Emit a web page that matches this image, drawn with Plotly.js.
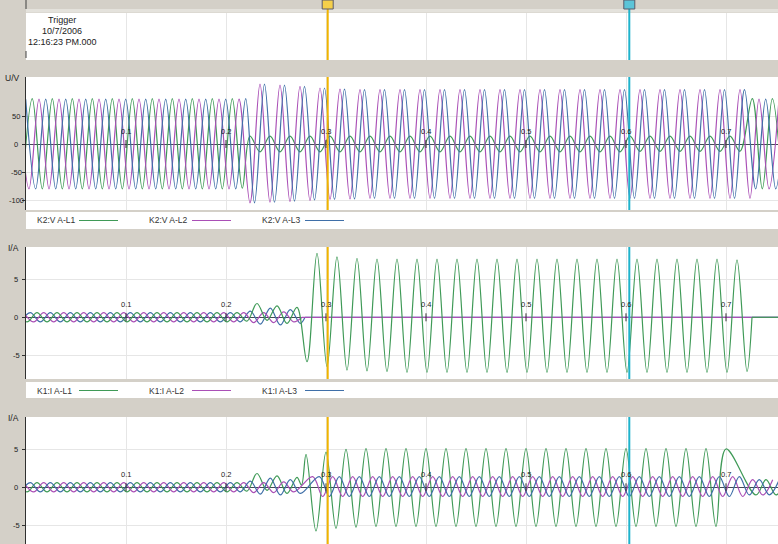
<!DOCTYPE html>
<html><head><meta charset="utf-8">
<script src="https://cdn.plot.ly/plotly-3.0.1.min.js"></script>
<style>html,body{margin:0;padding:0;background:#d4d0c8;overflow:hidden}#chart{width:778px;height:544px}</style>
</head><body><div id="chart"></div>
<script>
// ---------------- data ----------------
const tickTimes  = [0.1, 0.2, 0.3, 0.4, 0.5, 0.6, 0.7];
const tickLabels = ['0.1', '0.2', '0.3', '0.4', '0.5', '0.6', '0.7'];
const uTickVals  = [50, 0, -50, -100];
const uTickText  = ['50', '0', '-50', '-100'];
const iTickVals  = [5, 0, -5];
const iTickText  = ['5', '0', '-5'];
const halfCycle  = 0.01;           // 50 Hz: one extreme every 10 ms
const cursorTimes = [0.3017, 0.6033];
const triggerText = ['Trigger', '10/7/2006', '12:16:23 PM.000'];
const legend1 = ['K2:V A-L1', 'K2:V A-L2', 'K2:V A-L3'];
const legend2 = ['K1:I A-L1', 'K1:I A-L2', 'K1:I A-L3'];

// Panel 1, U/V : successive signed peak values, one per half cycle
const u1PreStart = -0.0037;
const u1Pre = [-80,81,-80,81,-80,81,-80,81,-80,81,-80,81,-80,81,-80,81,-80,81,-80,81,-80,81,-79];
const u1FaultStart = 0.224;
const u1Fault = [14,-14,14,-14,14,-14,14,-14,14,-14,14,-14,14,-14,14,-14,14,-14,14,-14,14,-14,14,-14,14,-14,
                 14,-14,14,-14,14,-14,14,-14,14,-14,14,-14,14,-13,14,-13,14,-13,14,-13,14,-13,14,-13];
const u1PostStart = 0.7263;
const u1Post = [81,-80,81,-80];

const u2PreStart = -0.007;
const u2Pre = [80,-80,80,-80,80,-80,80,-80,80,-80,80,-80,80,-80,80,-80,80,-80,80,-80,80,-80,80];
const u2FaultStart = 0.224;
const u2Fault = [-105,107,-104,105,-103,103,-101,100,-99,98,-98,97,
                 -97,97,-97,97,-97,97,-97,97,-97,97,-97,97,-97,97,-97,97,-97,97,-97,97,-97,97,-97,97,-97,97,-97,97,
                 -97,97,-97,97,-97,97,-97,97,-97,97,-97];
const u2PostStart = 0.733;
const u2Post = [80,-80,80];

const u3PreStart = -0.0003;
const u3Pre = [80,-80,80,-80,80,-80,80,-80,80,-80,80,-80,80,-80,80,-80,80,-80,80,-80,80,-80,81];
const u3FaultStart = 0.2285;
const u3Fault = [-105,107,-104,105,-102,103,-100,100,-99,98,-98,97,
                 -97,97,-97,97,-97,97,-97,97,-97,97,-97,97,-97,97,-97,97,-97,97,-97,97,-97,97,-97,97,-97,97,-97,97,
                 -97,97,-97,97,-97,97,-97,97,-97,97];
const u3PostStart = 0.7297;
const u3Post = [-80,80,-80,80];

// Panels 2 and 3, I/A : identical before the fault
const iL1PreStart = -0.009;
const iL1Pre = [0.6,-0.6,0.6,-0.6,0.6,-0.6,0.6,-0.6,0.6,-0.6,0.6,-0.6,0.6,-0.6,0.6,-0.6,0.6,-0.6,0.6,-0.6,0.6,-0.6,0.6,-0.5,
                1.8,-0.4,1.5,-0.8,1.3];
const iL2PreStart = -0.0023;
const iL2Pre = [0.6,-0.6,0.6,-0.6,0.6,-0.6,0.6,-0.6,0.6,-0.6,0.6,-0.6,0.6,-0.6,0.6,-0.6,0.6,-0.6,0.6,-0.6,0.6,-0.6,0.6,
                -0.7,0.6,-0.7,0.7,-0.6];
const iL3PreStart = -0.0057;
const iL3Pre = [-0.6,0.6,-0.6,0.6,-0.6,0.6,-0.6,0.6,-0.6,0.6,-0.6,0.6,-0.6,0.6,-0.6,0.6,-0.6,0.6,-0.6,0.6,-0.6,0.6,-0.6,
                0.8,-0.9,1.2,-1.0,1.0,-0.8];

// Panel 2 (K1) after the fault
const k1L1FaultStart = 0.281;
const k1L1Fault = [-5.8,8.35,-6.45,7.9,-6.9,7.7,-7.0,7.6,-7.1,7.6,
                   -7.2,7.6,-7.2,7.6,-7.2,7.6,-7.2,7.6,-7.2,7.6,-7.2,7.6,-7.2,7.6,-7.2,7.6,-7.2,7.6,-7.2,7.6,
                   -7.2,7.6,-7.2,7.6,-7.2,7.6,-7.2,7.6,-7.2,7.6,-7.2,7.6,-7.2,7.5,-7.1];
const k1L1EndT = [0.726, 0.752];
const k1L1EndV = [0, 0];
const k1L2EndT = [0.276, 0.752];
const k1L2EndV = [0, 0];
const k1L3EndT = [0.279, 0.752];
const k1L3EndV = [0, 0];

// Panel 3 after the fault
const p3L1DipT = [0.2755];
const p3L1DipV = [0.3];
const p3L1FaultStart = 0.280;
const p3L1Fault = [4.3,-5.7,4.6,-5.35,4.96,-5.2,5.05,-5.1,
                   5.05,-5.1,5.05,-5.1,5.05,-5.1,5.05,-5.1,5.05,-5.1,5.05,-5.1,5.05,-5.1,5.05,-5.1,5.05,-5.1,
                   5.05,-5.1,5.05,-5.1,5.05,-5.1,5.05,-5.1,5.05,-5.1,5.05,-5.1,5.05,-5.1,5.05,-5.1,5.0];
const p3L1PostStart = 0.730;
const p3L1Post = [-1.0,1.0,-1.0,1.0];
const p3L2FaultStart = 0.2867;
const p3L2Fault = [1.4,-1.2,1.4,-1.2,1.4,-1.2,1.4,-1.2,1.4,-1.2,1.4,-1.2,1.4,-1.2,1.4,-1.2,1.4,-1.2,1.4,-1.2,1.4,-1.2,
                   1.4,-1.2,1.4,-1.2,1.4,-1.2,1.4,-1.2,1.4,-1.2,1.4,-1.2,1.4,-1.2,1.4,-1.2,1.4,-1.2,1.4,-1.2,1.4,-1.2];
const p3L2PostStart = 0.7267;
const p3L2Post = [1.0,-1.0,1.0];
const p3L3FaultStart = 0.2933;
const p3L3Fault = [1.4,-1.2,1.4,-1.2,1.4,-1.2,1.4,-1.2,1.4,-1.2,1.4,-1.2,1.4,-1.2,1.4,-1.2,1.4,-1.2,1.4,-1.2,1.4,-1.2,
                   1.4,-1.2,1.4,-1.2,1.4,-1.2,1.4,-1.2,1.4,-1.2,1.4,-1.2,1.4,-1.2,1.4,-1.2,1.4,-1.2,1.4,-1.2,1.4];
const p3L3PostStart = 0.7233;
const p3L3Post = [-1.0,1.0,-1.0,1.0];

// ---------------- geometry & styles ----------------
const W = 778, H = 544, L = 26;
const C1 = '#3f9a57', C2 = '#aa4fb6', C3 = '#3f6fa8';
const GRID = '#e6e6e6';
const FONT = 'Liberation Sans, Arial, sans-serif';
const py = p => (H - p) / H;
const px = p => (p - L) / (W - L);

const topStrip = {top: 13, bottom: 60};
const pan1 = {top: 77, bottom: 210, zero: 144, ppu: 0.56};
const pan2 = {top: 247, bottom: 379, zero: 317.3, ppu: 7.66};
const pan3 = {top: 417, bottom: 544, zero: 487.3, ppu: 7.66};
const rng = p => [(p.zero - p.bottom) / p.ppu, (p.zero - p.top) / p.ppu];
const dom = p => [py(p.bottom), py(p.top)];

function seg(t0, vals) { return {x: vals.map((_, k) => t0 + k * halfCycle), y: vals.slice()}; }
function pts(ts, vs, n) { n = n || ts.length; return {x: ts.slice(0, n), y: vs.slice(0, n)}; }
function join(...parts) {
  const o = {x: [], y: []};
  parts.forEach(p => { o.x.push(...p.x); o.y.push(...p.y); });
  return o;
}
function tr(d, xa, ya, color, shape) {
  return {x: d.x, y: d.y, xaxis: xa, yaxis: ya, type: 'scatter', mode: 'lines',
          line: {color: color, width: 1.2, shape: shape || 'spline', smoothing: 1},
          hoverinfo: 'skip', showlegend: false, cliponaxis: true};
}

const data = [
  tr(join(seg(u1PreStart, u1Pre), seg(u1FaultStart, u1Fault), seg(u1PostStart, u1Post)), 'x', 'y', C1),
  tr(join(seg(u2PreStart, u2Pre), seg(u2FaultStart, u2Fault), seg(u2PostStart, u2Post)), 'x', 'y', C2),
  tr(join(seg(u3PreStart, u3Pre), seg(u3FaultStart, u3Fault), seg(u3PostStart, u3Post)), 'x', 'y', C3),

  tr(join(seg(iL3PreStart, iL3Pre), pts(k1L3EndT, k1L3EndV, 1)), 'x2', 'y2', C3),
  tr(pts(k1L3EndT, k1L3EndV), 'x2', 'y2', C3, 'linear'),
  tr(join(seg(iL2PreStart, iL2Pre), pts(k1L2EndT, k1L2EndV, 1)), 'x2', 'y2', C2),
  tr(pts(k1L2EndT, k1L2EndV), 'x2', 'y2', C2, 'linear'),
  tr(join(seg(iL1PreStart, iL1Pre), seg(k1L1FaultStart, k1L1Fault), pts(k1L1EndT, k1L1EndV, 1)), 'x2', 'y2', C1),
  tr(pts(k1L1EndT, k1L1EndV), 'x2', 'y2', C1, 'linear'),

  tr(join(seg(iL1PreStart, iL1Pre), pts(p3L1DipT, p3L1DipV), seg(p3L1FaultStart, p3L1Fault), seg(p3L1PostStart, p3L1Post)), 'x3', 'y3', C1),
  tr(join(seg(iL2PreStart, iL2Pre), seg(p3L2FaultStart, p3L2Fault), seg(p3L2PostStart, p3L2Post)), 'x3', 'y3', C2),
  tr(join(seg(iL3PreStart, iL3Pre), seg(p3L3FaultStart, p3L3Fault), seg(p3L3PostStart, p3L3Post)), 'x3', 'y3', C3),
  {x: [0], y: [0], xaxis: 'x4', yaxis: 'y4', type: 'scatter', mode: 'markers', marker: {opacity: 0}, hoverinfo: 'skip', showlegend: false}
];

function xax(anchor) {
  return {domain: [0, 1], range: [0, (W - L) / 1000], anchor: anchor, tickvals: tickTimes, showticklabels: false,
          showgrid: true, gridcolor: GRID, gridwidth: 1, zeroline: false, showline: false, ticks: '', fixedrange: true};
}
function yax(p, vals, anchor) {
  return {domain: dom(p), range: rng(p), anchor: anchor, tickvals: vals, showticklabels: false,
          showgrid: true, gridcolor: GRID, zeroline: true, zerolinecolor: '#444a55', zerolinewidth: 1,
          showline: true, linecolor: '#303030', linewidth: 1, ticks: 'outside', ticklen: 3, tickcolor: '#303030', fixedrange: true};
}

const annotations = [];
const shapes = [];
triggerText.forEach((t, i) => annotations.push({xref: 'paper', yref: 'paper', x: px(62), y: py(20 + i * 11),
  text: t, showarrow: false, xanchor: 'center', yanchor: 'middle', font: {family: FONT, size: 9, color: '#222'}}));
annotations.push({xref: 'paper', yref: 'paper', x: px(12), y: py(78), text: 'U/V', showarrow: false,
  xanchor: 'center', yanchor: 'middle', font: {family: FONT, size: 8.5, color: '#222'}});
annotations.push({xref: 'paper', yref: 'paper', x: px(13), y: py(248), text: 'I/A', showarrow: false,
  xanchor: 'center', yanchor: 'middle', font: {family: FONT, size: 8.5, color: '#222'}});
annotations.push({xref: 'paper', yref: 'paper', x: px(13), y: py(418), text: 'I/A', showarrow: false,
  xanchor: 'center', yanchor: 'middle', font: {family: FONT, size: 8.5, color: '#222'}});
[['y', uTickVals, uTickText], ['y2', iTickVals, iTickText], ['y3', iTickVals, iTickText]].forEach(([ya, v, t]) =>
  v.forEach((val, k) => annotations.push({xref: 'paper', yref: ya, x: px(16), y: val, text: t[k], showarrow: false,
    xanchor: 'center', yanchor: 'middle', font: {family: FONT, size: 7.5, color: '#222'}})));
[['x', 'y', pan1], ['x2', 'y2', pan2], ['x3', 'y3', pan3]].forEach(([xa, ya, p]) => {
  tickTimes.forEach((tt, k) => {
    annotations.push({xref: xa, yref: ya, x: tt, y: 0, yshift: 13, text: tickLabels[k], showarrow: false,
      xanchor: 'center', yanchor: 'middle', font: {family: FONT, size: 7.5, color: '#222'}});
    shapes.push({type: 'line', xref: xa, yref: ya, x0: tt, x1: tt, y0: -4 / p.ppu, y1: 4 / p.ppu,
      line: {color: '#303030', width: 1}, layer: 'above'});
  });
});
[[212, 229, legend1, 220.5], [382, 398, legend2, 390.5]].forEach(([a, b, names, yc]) => {
  shapes.push({type: 'rect', xref: 'paper', yref: 'paper', x0: px(L), x1: px(W), y0: py(b), y1: py(a),
    fillcolor: '#ffffff', line: {width: 0}, layer: 'below'});
  const tx = [35, 147, 260], lx = [[79, 118], [192, 231], [305, 344]], cols = [C1, C2, C3];
  names.forEach((n, k) => {
    annotations.push({xref: 'paper', yref: 'paper', x: px(tx[k]), y: py(yc), text: n, showarrow: false,
      xanchor: 'left', yanchor: 'middle', font: {family: FONT, size: 8.5, color: '#333'}});
    shapes.push({type: 'line', xref: 'paper', yref: 'paper', x0: px(lx[k][0]), x1: px(lx[k][1]), y0: py(yc), y1: py(yc),
      line: {color: cols[k], width: 1.2}});
  });
});
shapes.push({type: 'rect', xref: 'paper', yref: 'paper', x0: px(L), x1: px(W), y0: py(12.5), y1: py(9),
  fillcolor: '#e4e2dc', line: {width: 0}, layer: 'below'});
const curCols = ['#f0b400', '#1fb3cc'];
const curFill = ['#f5cf4a', '#5cc4d8'];
cursorTimes.forEach((ct, k) => {
  [[9, 60], [pan1.top, pan1.bottom], [pan2.top, pan2.bottom], [pan3.top, pan3.bottom]].forEach(([a, b]) =>
    shapes.push({type: 'line', xref: 'x', yref: 'paper', x0: ct, x1: ct, y0: py(b), y1: py(a),
      line: {color: curCols[k], width: 2}, layer: 'above'}));
  shapes.push({type: 'rect', xref: 'x', yref: 'paper', x0: ct - 0.0055, x1: ct + 0.0055, y0: py(9), y1: py(0),
    fillcolor: curFill[k], line: {color: '#5a5a6a', width: 1}, layer: 'above'});
});
shapes.push({type: 'line', xref: 'paper', yref: 'paper', x0: 0, x1: 0, y0: py(9), y1: py(0), line: {color: '#404040', width: 1}});
shapes.push({type: 'line', xref: 'paper', yref: 'paper', x0: 0, x1: 0, y0: py(58), y1: py(51), line: {color: '#404040', width: 1}});

const layout = {
  width: W, height: H, margin: {l: L, r: 0, t: 0, b: 0, pad: 0},
  paper_bgcolor: '#d4d0c8', plot_bgcolor: '#ffffff', showlegend: false,
  font: {family: FONT, size: 8, color: '#222'},
  xaxis: xax('y'), yaxis: yax(pan1, uTickVals, 'x'),
  xaxis2: xax('y2'), yaxis2: yax(pan2, iTickVals, 'x2'),
  xaxis3: xax('y3'), yaxis3: yax(pan3, iTickVals, 'x3'),
  xaxis4: xax('y4'),
  yaxis4: {domain: [py(topStrip.bottom), py(topStrip.top)], range: [0, 1], anchor: 'x4', showticklabels: false, showgrid: false,
           zeroline: false, showline: false, ticks: '', fixedrange: true},
  annotations: annotations, shapes: shapes
};
Plotly.newPlot('chart', data, layout, {staticPlot: true, displayModeBar: false});
</script></body></html>
